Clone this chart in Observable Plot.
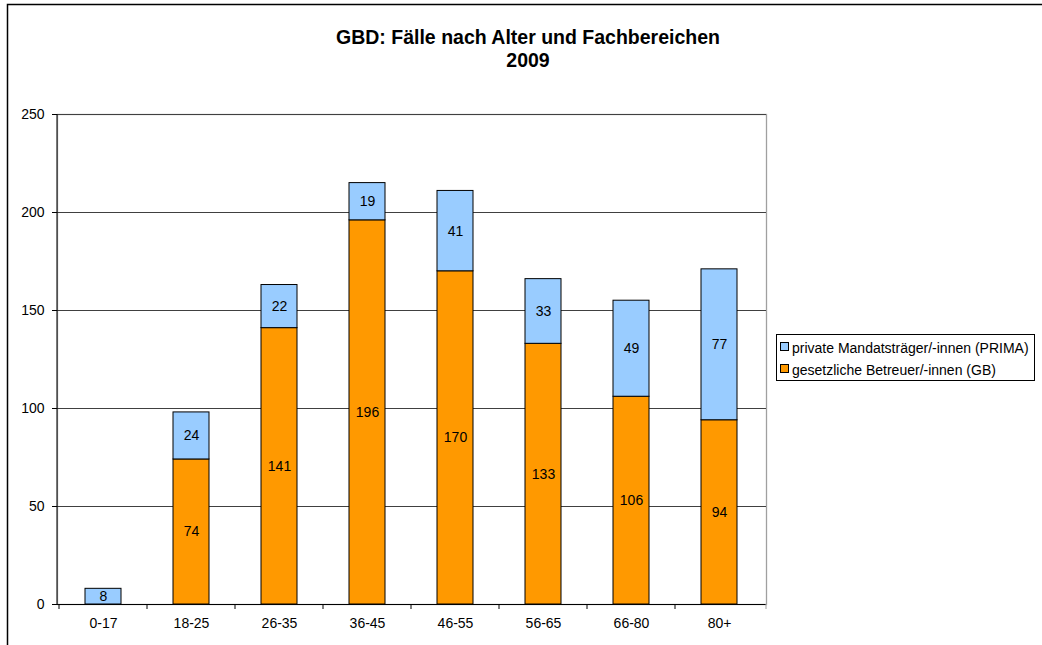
<!DOCTYPE html>
<html>
<head>
<meta charset="utf-8">
<script src="https://cdn.jsdelivr.net/npm/d3@7"></script>
<script src="https://cdn.jsdelivr.net/npm/@observablehq/plot@0.6"></script>
<style>
  body { margin: 0; background: #fff; }
  #chart svg { display: block; font-family: "Liberation Sans", Arial, sans-serif; }
</style>
</head>
<body>
<div id="chart"></div>
<script>
const categories = ["0-17", "18-25", "26-35", "36-45", "46-55", "56-65", "66-80", "80+"];
const gbValues = [0, 74, 141, 196, 170, 133, 106, 94];
const primaValues = [8, 24, 22, 19, 41, 33, 49, 77];
const seriesNames = ["private Mandatsträger/-innen (PRIMA)", "gesetzliche Betreuer/-innen (GB)"];
const seriesColors = ["#99CCFF", "#FF9900"];
const yTicks = [0, 50, 100, 150, 200, 250];
const titleLines = ["GBD: Fälle nach Alter und Fachbereichen", "2009"];

const rows = [];
categories.forEach((c, i) => {
  rows.push({cat: c, series: seriesNames[1], y1: 0, y2: gbValues[i], v: gbValues[i]});
  rows.push({cat: c, series: seriesNames[0], y1: gbValues[i], y2: gbValues[i] + primaValues[i], v: primaValues[i]});
});
const visible = rows.filter(d => d.v > 0);

const W = 1042, H = 645;
const mL = 57, mR = 276, mT = 114, mB = 41;
const FF = "Liberation Sans, Arial, sans-serif";

const chart = Plot.plot({
  width: W,
  height: H,
  marginLeft: mL,
  marginRight: mR,
  marginTop: mT,
  marginBottom: mB,
  style: {fontFamily: FF, fontSize: "14px", color: "#000", background: "#fff"},
  x: {domain: categories, paddingInner: 0.59, paddingOuter: 0.295, label: null},
  y: {domain: [0, 250], ticks: yTicks, label: null},
  color: {domain: seriesNames, range: seriesColors},
  marks: [
    Plot.frame({stroke: "#a0a0a0", strokeWidth: 1.3}),
    Plot.gridY(yTicks, {stroke: "#404040", strokeOpacity: 1, strokeWidth: 1}),
    Plot.rectY(visible, {x: "cat", y1: "y1", y2: "y2", fill: "series", stroke: "#000", strokeWidth: 1}),
    Plot.text(visible, {x: "cat", y: d => (d.y1 + d.y2) / 2, text: d => String(d.v), fontSize: 14, fill: "#000"}),
    Plot.ruleY([0], {stroke: "#000", strokeWidth: 1}),
    Plot.axisY(yTicks, {tickSize: 5, tickPadding: 8, fontSize: 14, stroke: "#000", label: null}),
    Plot.axisX({tickSize: 0, tickPadding: 14, fontSize: 14, label: null})
  ]
});

const svg = d3.select(chart);
const xs = chart.scale("x");
const step = xs.step;
// left axis line
svg.append("line").attr("x1", mL).attr("x2", mL).attr("y1", mT).attr("y2", H - mB)
  .attr("stroke", "#000").attr("stroke-width", 1);
// category boundary ticks
const bounds = [...categories.map(c => xs.apply(c) - (step - xs.bandwidth) / 2), W - mR];
svg.append("g").selectAll("line").data(bounds).join("line")
  .attr("x1", d => d).attr("x2", d => d)
  .attr("y1", H - mB).attr("y2", H - mB + 5)
  .attr("stroke", (d, i) => i === bounds.length - 1 ? "#a0a0a0" : "#000").attr("stroke-width", 1);

// outer chart border
svg.append("path").attr("d", `M7.5,${H} V4.5 H${W}`).attr("fill", "none").attr("stroke", "#000").attr("stroke-width", 1.5);

// title
svg.append("g").selectAll("text").data(titleLines).join("text")
  .attr("x", 528).attr("y", (d, i) => 44 + i * 23)
  .attr("text-anchor", "middle").attr("font-weight", "bold").attr("font-size", 19.5)
  .attr("font-family", FF).text(d => d);

// legend
const lg = svg.append("g").attr("text-anchor", "start");
lg.append("rect").attr("x", 776.5).attr("y", 334.5).attr("width", 258).attr("height", 46)
  .attr("fill", "#fff").attr("stroke", "#000").attr("stroke-width", 1);
seriesNames.forEach((n, i) => {
  const yy = 348 + i * 22;
  lg.append("rect").attr("x", 780.5).attr("y", yy - 5.5).attr("width", 8).attr("height", 8)
    .attr("fill", seriesColors[i]).attr("stroke", "#000").attr("stroke-width", 1);
  lg.append("text").attr("x", 792).attr("y", yy + 5).attr("font-size", 14)
    .attr("text-anchor", "start").attr("font-family", FF).text(n);
});

document.getElementById("chart").appendChild(chart);
</script>
</body>
</html>
